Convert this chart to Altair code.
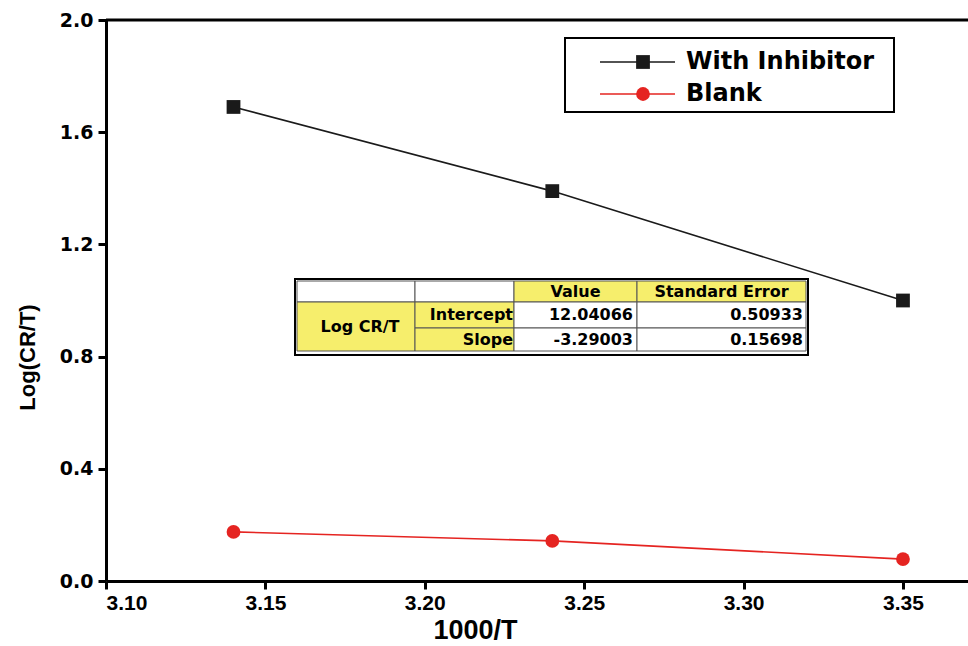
import altair as alt
import pandas as pd

# ---- data ----
x_vals = [3.14, 3.24, 3.35]
inhibitor = [1.69, 1.39, 1.00]
blank = [0.175, 0.143, 0.078]
series = ["With Inhibitor", "Blank"]
colors = ["#1a1a1a", "#e52421"]
shapes = ["square", "circle"]

x_ticks = [3.10, 3.15, 3.20, 3.25, 3.30, 3.35]
y_ticks = [0.0, 0.4, 0.8, 1.2, 1.6, 2.0]

table_header = ["", "", "Value", "Standard Error"]
table_group = "Log CR/T"
table_rows = ["Intercept", "Slope"]
table_values = ["12.04066", "-3.29003"]
table_errors = ["0.50933", "0.15698"]

# ---- layout (pixels inside the plot area) ----
W, H = 862, 561
YELLOW = "#f6ee6c"
FONT = "Liberation Sans"

rows = []
for i, xv in enumerate(x_vals):
    rows.append({"x": xv, "y": inhibitor[i], "series": series[0]})
    rows.append({"x": xv, "y": blank[i], "series": series[1]})
df = pd.DataFrame(rows)

xenc = alt.X("x:Q",
             scale=alt.Scale(domain=[3.10, 3.3704], nice=False, zero=False),
             axis=alt.Axis(values=x_ticks, format=".2f", title="1000/T",
                           labelFontSize=21, titleFontSize=27, labelPadding=3,
                           titlePadding=4, titleX=369))
yenc = alt.Y("y:Q",
             scale=alt.Scale(domain=[0, 2], nice=False),
             axis=alt.Axis(values=y_ticks, format=".1f", title="Log(CR/T)",
                           labelFontSize=19, titleFontSize=22, labelPadding=5,
                           titlePadding=20, labelFont="DejaVu Sans", titleY=337))
cenc = alt.Color("series:N", scale=alt.Scale(domain=series, range=colors), legend=None)
senc = alt.Shape("series:N", scale=alt.Scale(domain=series, range=shapes), legend=None)

lines = alt.Chart(df).mark_line(strokeWidth=1.6).encode(x=xenc, y=yenc, color=cenc)
points = alt.Chart(df).mark_point(filled=True, opacity=1, size=190).encode(
    x=xenc, y=yenc, color=cenc, shape=senc)

top_border = alt.Chart(pd.DataFrame({"a": [0]})).mark_rule(color="black", strokeWidth=3).encode(
    x=alt.value(0), x2=alt.value(W), y=alt.value(0))

# ---- legend box (manual) ----
lg_x0, lg_y0, lg_x1, lg_y1 = 459, 18, 788, 92
leg_box = alt.Chart(pd.DataFrame({"a": [0]})).mark_rect(
    fill="white", stroke="black", strokeWidth=2).encode(
    x=alt.value(lg_x0), x2=alt.value(lg_x1), y=alt.value(lg_y0), y2=alt.value(lg_y1))
leg_df = pd.DataFrame({"series": series, "ly": [42, 74]})
leg_df["lx0"] = 494
leg_df["lx1"] = 569
leg_df["mx"] = 537
leg_df["tx"] = 580
leg_lines = alt.Chart(leg_df).mark_rule(strokeWidth=1.6).encode(
    x=alt.X("lx0:Q", scale=None), x2="lx1:Q", y=alt.Y("ly:Q", scale=None), color=cenc)
leg_pts = alt.Chart(leg_df).mark_point(filled=True, opacity=1, size=190).encode(
    x=alt.X("mx:Q", scale=None), y=alt.Y("ly:Q", scale=None), color=cenc, shape=senc)
leg_txt = alt.Chart(leg_df).mark_text(align="left", baseline="middle", font="DejaVu Sans",
                                      fontWeight="bold", fontSize=24, color="black").encode(
    x=alt.X("tx:Q", scale=None), y=alt.Y("ly:Q", scale=None), text="series:N")

# ---- statistics table (manual) ----
cx = [191, 309, 408, 531, 700]
ry = [261, 282, 308, 331]
cells = []
for j in range(4):
    cells.append({"x": cx[j], "x2": cx[j + 1], "y": ry[0], "y2": ry[1],
                  "fill": YELLOW if table_header[j] else "white"})
cells.append({"x": cx[0], "x2": cx[1], "y": ry[1], "y2": ry[3], "fill": YELLOW})
for r in range(2):
    cells.append({"x": cx[1], "x2": cx[2], "y": ry[r + 1], "y2": ry[r + 2], "fill": YELLOW})
    cells.append({"x": cx[2], "x2": cx[3], "y": ry[r + 1], "y2": ry[r + 2], "fill": "white"})
    cells.append({"x": cx[3], "x2": cx[4], "y": ry[r + 1], "y2": ry[r + 2], "fill": "white"})
cells_df = pd.DataFrame(cells)

outer = alt.Chart(pd.DataFrame({"a": [0]})).mark_rect(
    fill="white", stroke="black", strokeWidth=2).encode(
    x=alt.value(189), x2=alt.value(702), y=alt.value(259), y2=alt.value(335))
cell_rects = alt.Chart(cells_df).mark_rect(stroke="#555555", strokeWidth=1).encode(
    x=alt.X("x:Q", scale=None), x2="x2:Q", y=alt.Y("y:Q", scale=None), y2="y2:Q",
    fill=alt.Fill("fill:N", scale=None))

texts = []
for j in range(4):
    if table_header[j]:
        texts.append({"tx": (cx[j] + cx[j + 1]) / 2, "ty": (ry[0] + ry[1]) / 2,
                      "t": table_header[j], "al": "center"})
texts.append({"tx": (cx[0] + cx[1]) / 2 + 4, "ty": (ry[1] + ry[3]) / 2, "t": table_group, "al": "center"})
for r in range(2):
    yc = (ry[r + 1] + ry[r + 2]) / 2
    texts.append({"tx": cx[2] - 1, "ty": yc, "t": table_rows[r], "al": "right"})
    texts.append({"tx": cx[3] - 4, "ty": yc, "t": table_values[r], "al": "right"})
    texts.append({"tx": cx[4] - 3, "ty": yc, "t": table_errors[r], "al": "right"})
txt_df = pd.DataFrame(texts)
table_txt_c = alt.Chart(txt_df[txt_df["al"] == "center"]).mark_text(
    align="center", baseline="middle", font="DejaVu Sans", fontWeight="bold",
    fontSize=16, color="black").encode(
    x=alt.X("tx:Q", scale=None), y=alt.Y("ty:Q", scale=None), text="t:N")
table_txt_r = alt.Chart(txt_df[txt_df["al"] == "right"]).mark_text(
    align="right", baseline="middle", font="DejaVu Sans", fontWeight="bold",
    fontSize=16, color="black").encode(
    x=alt.X("tx:Q", scale=None), y=alt.Y("ty:Q", scale=None), text="t:N")

chart = alt.layer(
    lines, points, top_border,
    leg_box, leg_lines, leg_pts, leg_txt,
    outer, cell_rects, table_txt_c, table_txt_r,
).properties(
    width=W, height=H,
    autosize=alt.AutoSizeParams(type="none"),
    padding={"left": 106, "top": 20, "right": 0, "bottom": 65},
    background="white",
).configure_view(stroke=None).configure_axis(
    grid=False, domainColor="black", domainWidth=3, tickColor="black", tickWidth=3,
    tickSize=8, labelColor="black", titleColor="black", labelFont=FONT, titleFont=FONT,
    labelFontWeight="bold", titleFontWeight="bold",
)

chart.save("out.html", embed_options={"renderer": "svg", "actions": False})
